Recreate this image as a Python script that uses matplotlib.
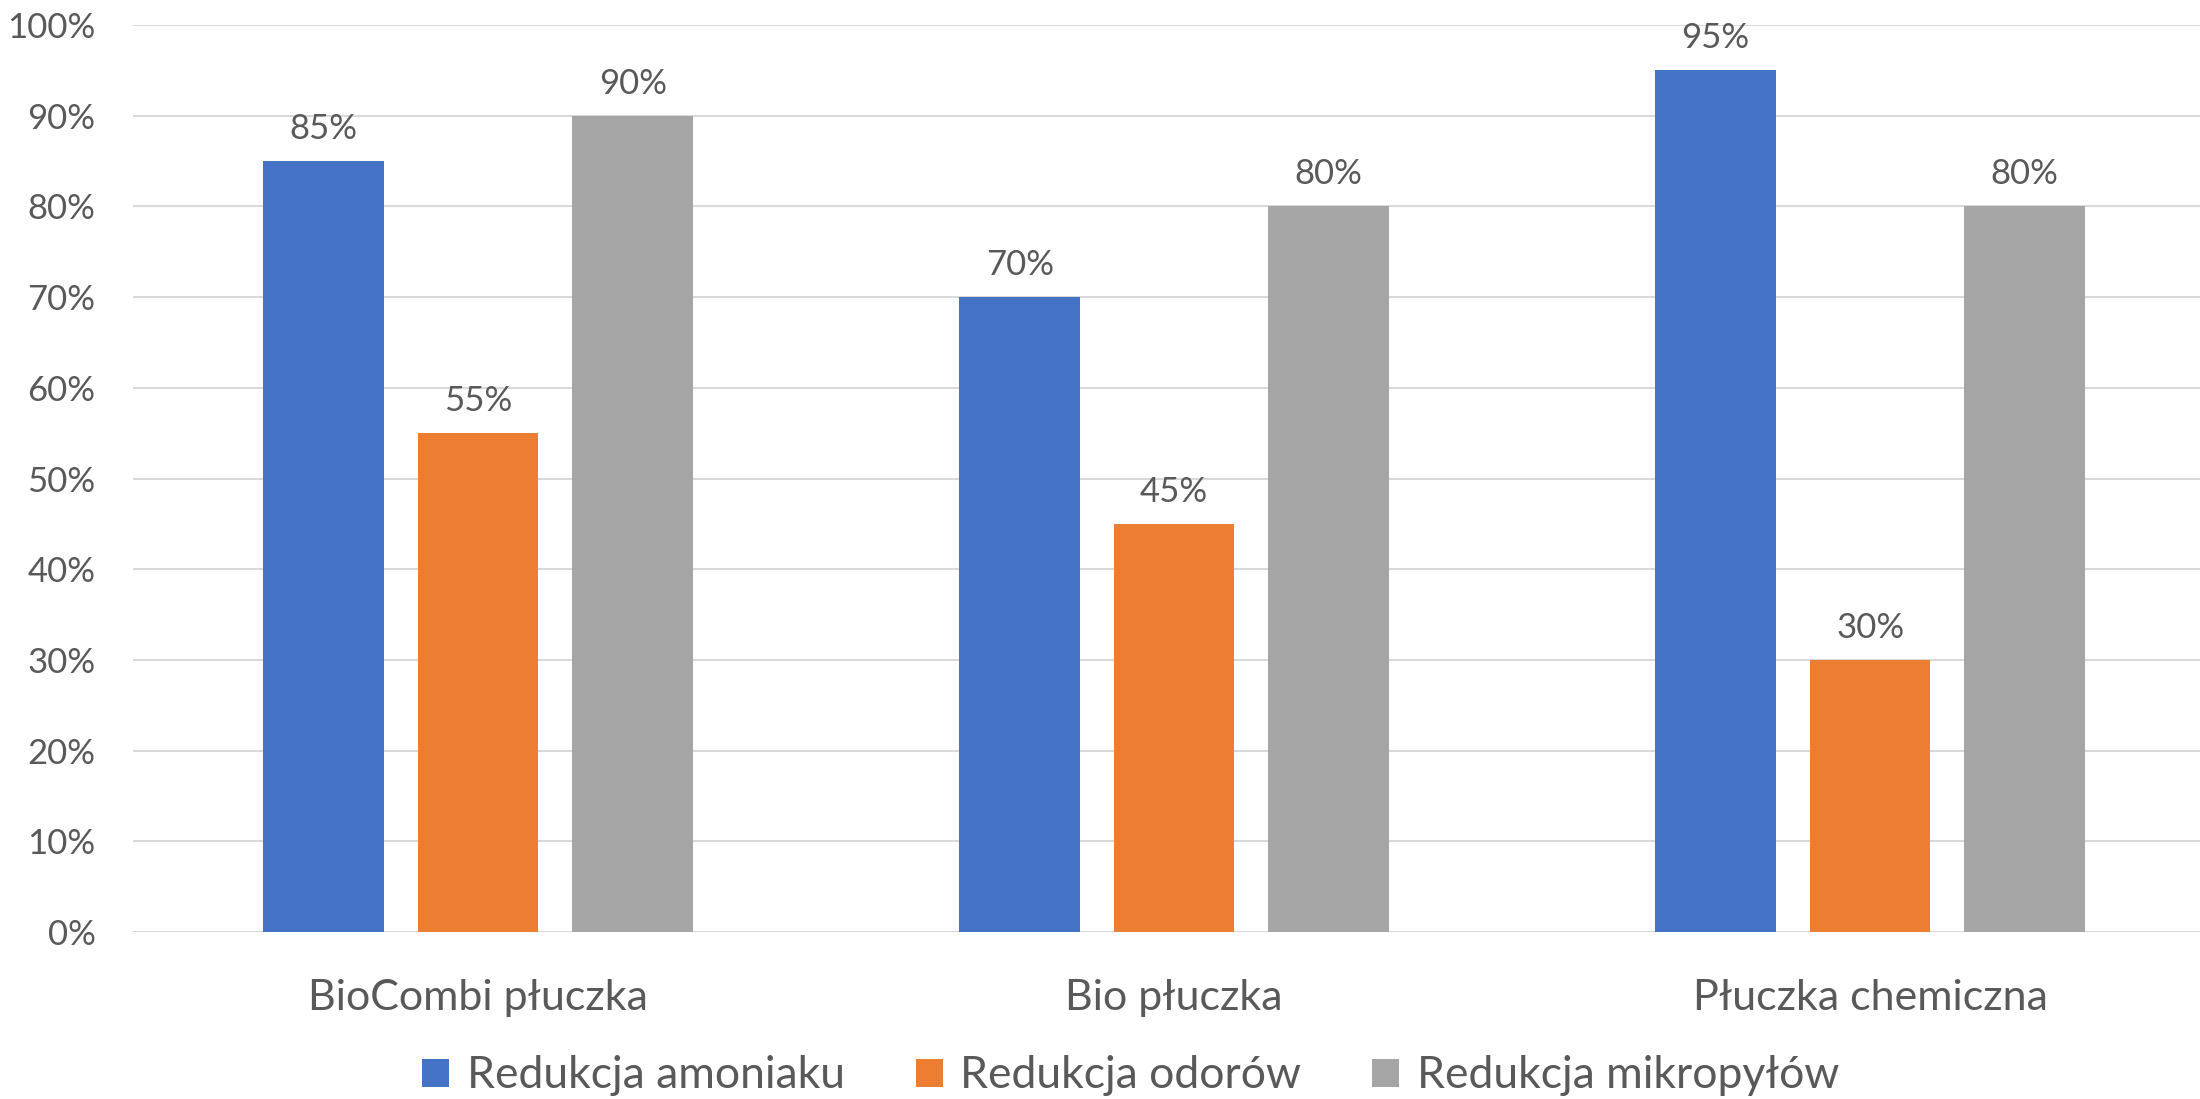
import matplotlib
matplotlib.use("Agg")
import matplotlib.pyplot as plt
import numpy as np

plt.rcParams['font.family'] = ['Lato', 'DejaVu Sans']

categories = ["BioCombi płuczka", "Bio płuczka", "Płuczka chemiczna"]
series = ["Redukcja amoniaku", "Redukcja odorów", "Redukcja mikropyłów"]
amoniak = [0.85, 0.70, 0.95]
odory = [0.55, 0.45, 0.30]
mikropyly = [0.90, 0.80, 0.80]
yticks = [0, 0.1, 0.2, 0.3, 0.4, 0.5, 0.6, 0.7, 0.8, 0.9, 1.0]

colors = ["#4472C4", "#ED7D31", "#A5A5A5"]
txt = "#595959"

fig = plt.figure(figsize=(22, 10.99), dpi=100)
ax = fig.add_axes([133 / 2200, 1 - 932 / 1099, 1 - 133 / 2200, (932 - 25) / 1099])

x = np.arange(len(categories))
w = 0.173
step = 0.222
for i, (vals, name) in enumerate(zip([amoniak, odory, mikropyly], series)):
    bars = ax.bar(x + (i - 1) * step, vals, width=w, color=colors[i], label=name, zorder=3)
    for b, v in zip(bars, vals):
        ax.annotate(f"{v:.0%}", (b.get_x() + b.get_width() / 2, v),
                    xytext=(0, 23), textcoords="offset points",
                    ha="center", va="center", fontsize=25, color=txt)

ax.set_xlim(-0.496, 2.474)
ax.set_ylim(0, 1)
ax.set_yticks(yticks)
ax.set_yticklabels([f"{t:.0%}" for t in yticks], fontsize=25, color=txt)
ax.set_xticks(x)
ax.set_xticklabels(categories, fontsize=31, color=txt)
ax.tick_params(axis="y", length=0, pad=27)
ax.tick_params(axis="x", length=0, pad=34)
for lab in ax.get_yticklabels():
    lab.set_horizontalalignment("right")
ax.grid(axis="y", color="#D9D9D9", linewidth=1.5, zorder=0)
for s in ax.spines.values():
    s.set_visible(False)

fig.legend(loc="center", bbox_to_anchor=(0.514, 1 - 1076 / 1099), ncol=3,
           frameon=False, fontsize=32, labelcolor=txt, handlelength=0.6,
           handleheight=0.6, handletextpad=0.4, columnspacing=1.6)

fig.savefig("out.png", dpi=100)
